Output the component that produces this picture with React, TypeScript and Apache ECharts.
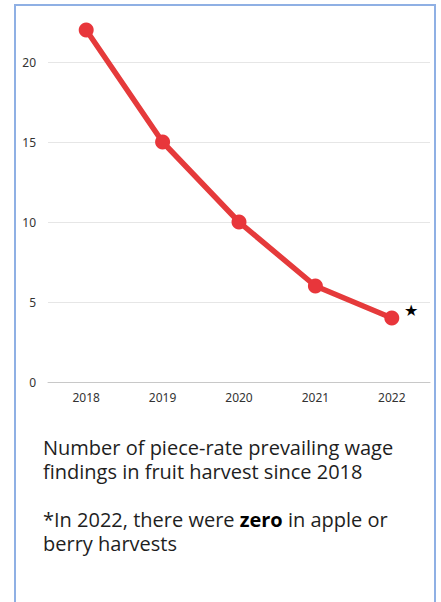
import React, { useEffect, useRef } from "react";
import * as echarts from "echarts";

const years = ["2018", "2019", "2020", "2021", "2022"];
const findings = [22, 15, 10, 6, 4];
const yTicks = [0, 5, 10, 15, 20];
const caption = "Number of piece-rate prevailing wage\nfindings in fruit harvest since 2018";
const note = "*In 2022, there were {b|zero} in apple or\nberry harvests";

const SHIFT = 18; // chart div starts above the page so the 25 grid line is hidden

export default function App() {
  const ref = useRef<HTMLDivElement>(null);
  useEffect(() => {
    if (!ref.current) return;
    const chart = echarts.init(ref.current, undefined, { renderer: "svg" });
    const lastIdx = findings.length - 1;
    const LH = 24.5;
    const textStyle = {
      fontSize: 20,
      lineHeight: LH,
      fontFamily: "Open Sans",
      fill: "#1e1e1e",
      verticalAlign: "top",
      align: "left",
    };
    chart.setOption({
      animation: false,
      backgroundColor: "#ffffff",
      grid: { left: 48, right: 11, top: 0, bottom: 220 },
      xAxis: {
        type: "category",
        data: years,
        boundaryGap: true,
        axisLine: { show: true, lineStyle: { color: "#c8c8c8", width: 1 } },
        axisTick: { show: false },
        axisLabel: {
          margin: 9,
          fontSize: 12,
          color: "#333333",
          fontFamily: "Noto Sans",
        },
      },
      yAxis: {
        type: "value",
        min: 0,
        max: 25,
        interval: 5,
        axisLine: { show: false },
        axisTick: { show: false },
        splitLine: { lineStyle: { color: "#e6e6e6", width: 1 } },
        axisLabel: {
          margin: 12,
          fontSize: 12,
          color: "#333333",
          fontFamily: "Noto Sans",
          formatter: (v: number) => (yTicks.includes(v) ? String(v) : ""),
        },
      },
      series: [
        {
          type: "line",
          data: findings.map((v, i) =>
            i === lastIdx
              ? {
                  value: v,
                  label: {
                    show: true,
                    formatter: "★",
                    position: "right",
                    distance: 5,
                    offset: [0, -8],
                    fontSize: 16,
                    color: "#000000",
                  },
                }
              : v
          ),
          symbol: "circle",
          symbolSize: 15,
          lineStyle: { color: "#e53a3b", width: 5.5 },
          itemStyle: { color: "#e8363b" },
        },
      ],
      graphic: [
        {
          type: "rect",
          shape: { x: 15, y: 5 + SHIFT, width: 420, height: 620 },
          style: { fill: "none", stroke: "#8fb0e4", lineWidth: 2 },
          silent: true,
        },
        {
          type: "text",
          x: 43,
          y: 435 + SHIFT,
          style: { ...textStyle, text: caption },
        },
        {
          type: "text",
          x: 43,
          y: 507 + SHIFT,
          style: {
            ...textStyle,
            text: note,
            rich: {
              b: {
                fontSize: 20,
                lineHeight: LH,
                fontFamily: "Open Sans",
                fontWeight: "bold",
                fill: "#000000",
              },
            },
          },
        },
      ],
    });
    return () => chart.dispose();
  }, []);
  return (
    <div
      ref={ref}
      style={{
        position: "fixed",
        left: 0,
        top: -SHIFT,
        width: 441,
        height: 602 + SHIFT,
      }}
    />
  );
}
